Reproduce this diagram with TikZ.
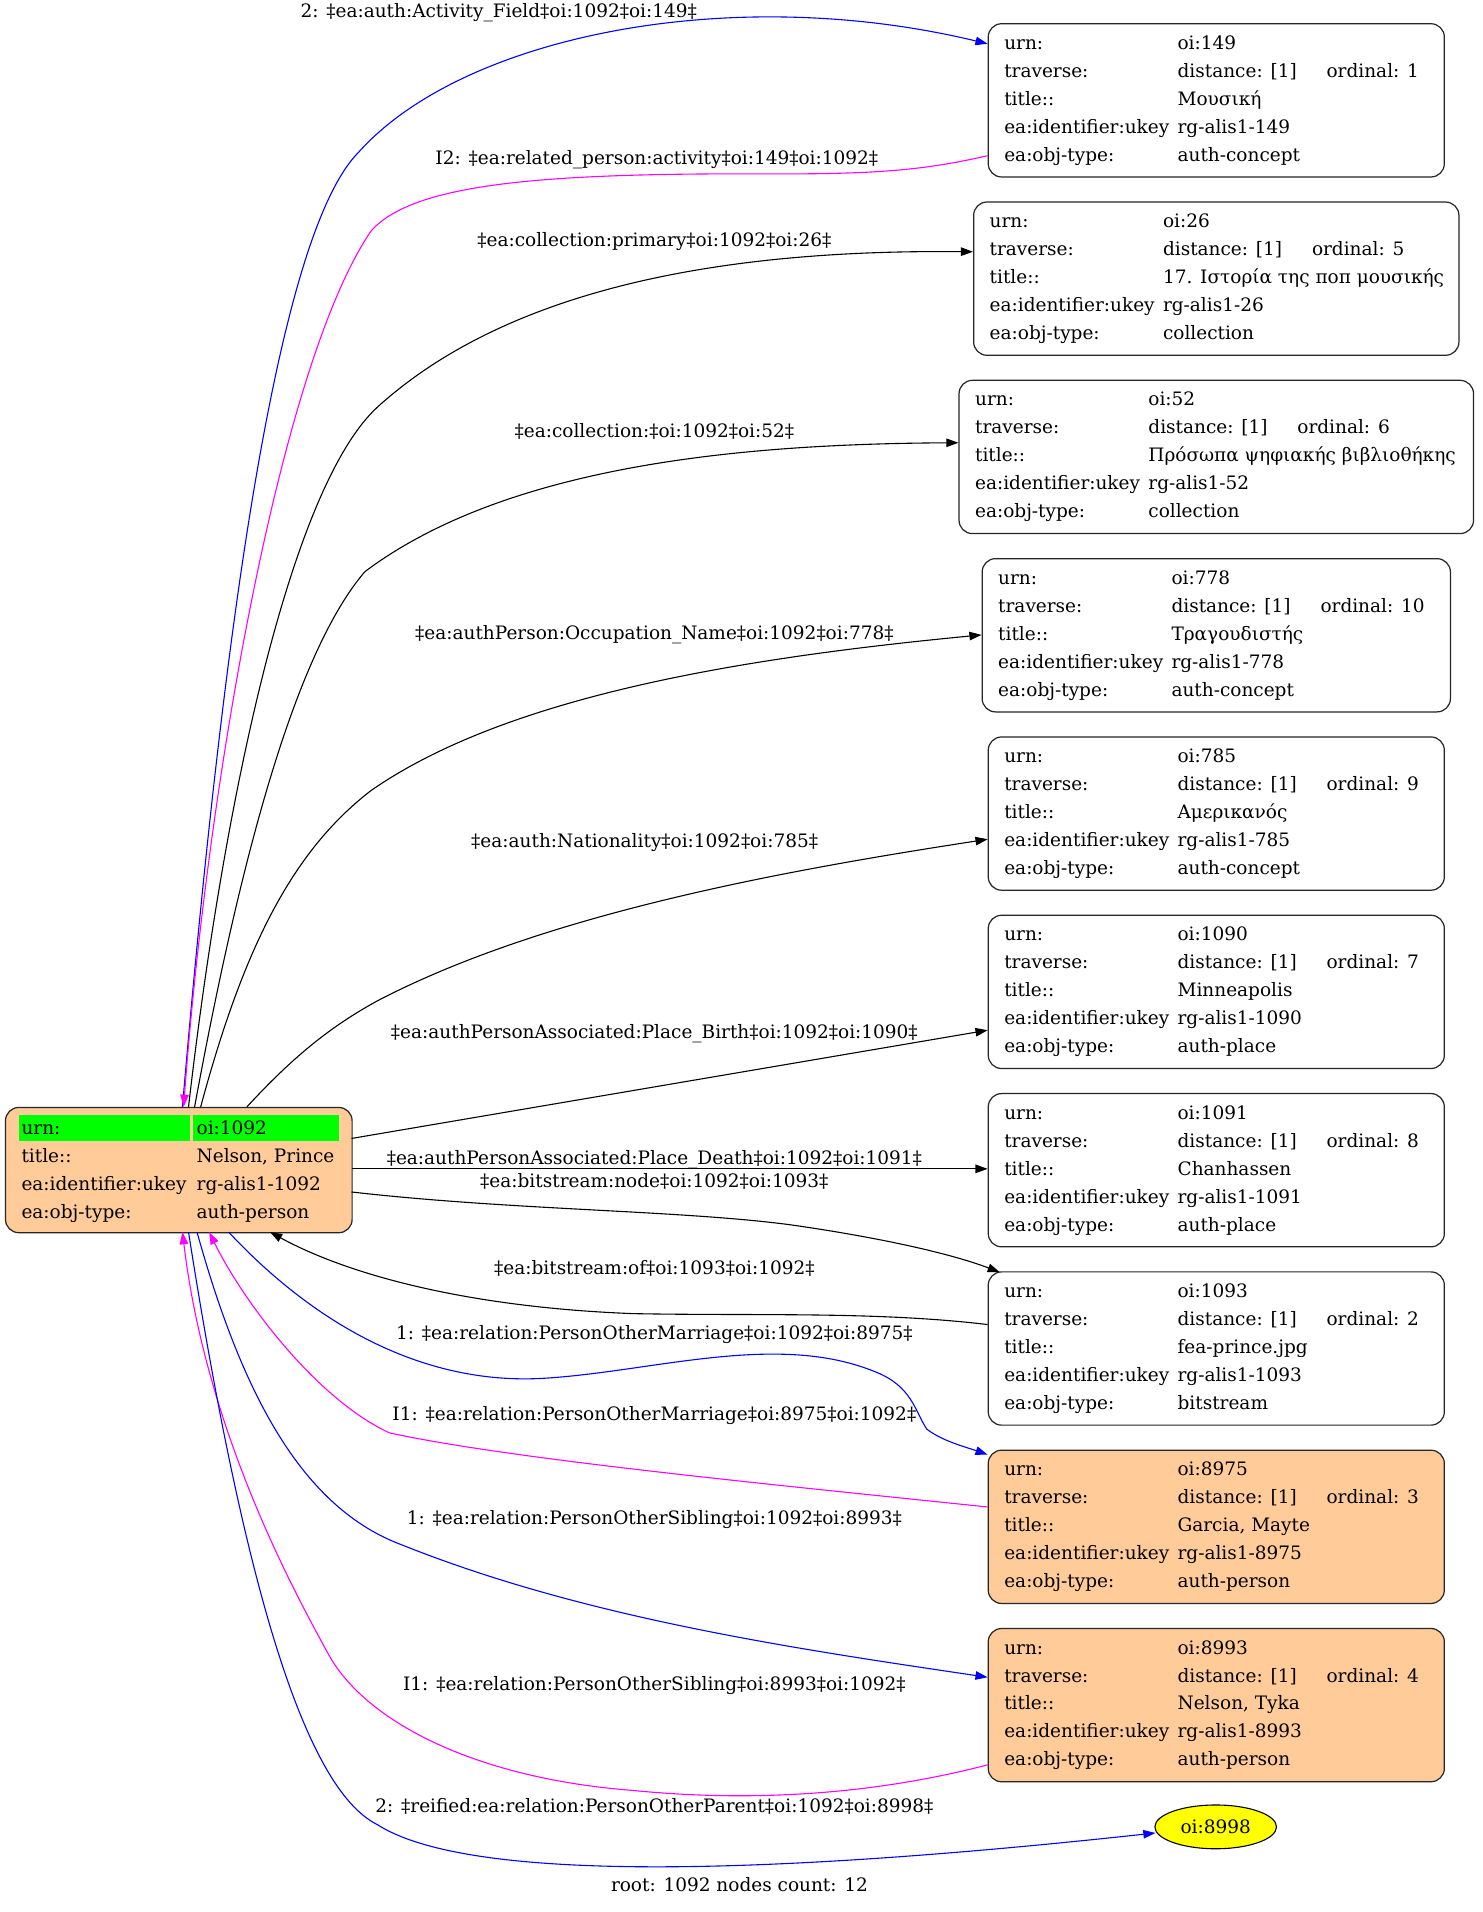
\documentclass[tikz,border=0pt]{standalone}
\usepackage{fontspec}
\setmainfont{DejaVu Serif}
\usetikzlibrary{arrows.meta,calc,shapes.geometric}
\definecolor{peach}{HTML}{FFCC99}
\definecolor{gvgreen}{HTML}{00FF00}
\definecolor{gvyellow}{HTML}{FFFF00}
\definecolor{gvblue}{HTML}{0000FF}
\definecolor{gvmag}{HTML}{FF00FF}
\tikzset{
  gvfont/.style={font=\fontsize{15.2}{17}\selectfont},
  recbox/.style={draw=black!85,line width=1pt,rounded corners=11pt,minimum height=126pt,inner sep=0pt},
  cell/.style={gvfont,inner sep=0pt,anchor=base west},
  elabel/.style={gvfont,inner sep=0pt,anchor=base},
  arr/.style={line width=0.9pt,-{Triangle[length=10pt,width=7pt]}},
  blk/.style={arr,black},
  blu/.style={arr,gvblue},
  mag/.style={arr,gvmag},
}
\newcommand\recbox[8]{%
  \node[recbox,#5,minimum width=#4pt,anchor=north west] (n#1) at (#2,#3) {};
  \node[cell] (n#1k1) at ($(#2,#3)+(13.5,21.5)$) {urn:};
  \node[cell] (n#1v1) at ($(#2,#3)+(156,21.5)$) {oi:#1};
  \node[cell] (n#1k2) at ($(#2,#3)+(13.5,44.5)$) {traverse:};
  \node[cell] (n#1v2) at ($(#2,#3)+(156,44.5)$) {distance: [1]};
  \node[cell] (n#1o2) at ($(#2,#3)+(278.5,44.5)$) {ordinal: #6};
  \node[cell] (n#1k3) at ($(#2,#3)+(13.5,67.5)$) {title::};
  \node[cell] (n#1v3) at ($(#2,#3)+(156,67.5)$) {#7};
  \node[cell] (n#1k4) at ($(#2,#3)+(13.5,90.5)$) {ea:identifier:ukey};
  \node[cell] (n#1v4) at ($(#2,#3)+(156,90.5)$) {rg-alis1-#1};
  \node[cell] (n#1k5) at ($(#2,#3)+(13.5,113.5)$) {ea:obj-type:};
  \node[cell] (n#1v5) at ($(#2,#3)+(156,113.5)$) {#8};
}
\begin{document}
\begin{tikzpicture}[x=1pt,y=-1pt]
\useasboundingbox (0,0) rectangle (1219,1572);
\fill[white] (0,0) rectangle (1219,1572);

% ---------- record nodes ----------
\recbox{149}{812}{19}{375}{fill=white}{1}{Μουσική}{auth-concept}
\recbox{26}{800}{165.6}{399}{fill=white}{5}{17. Ιστορία της ποπ μουσικής}{collection}
\recbox{52}{788}{312.2}{423}{fill=white}{6}{Πρόσωπα ψηφιακής βιβλιοθήκης}{collection}
\recbox{778}{807}{458.8}{385}{fill=white}{10}{Τραγουδιστής}{auth-concept}
\recbox{785}{812}{605.4}{375}{fill=white}{9}{Αμερικανός}{auth-concept}
\recbox{1090}{812}{752}{375}{fill=white}{7}{Minneapolis}{auth-place}
\recbox{1091}{812}{898.6}{375}{fill=white}{8}{Chanhassen}{auth-place}
\recbox{1093}{812}{1045.2}{375}{fill=white}{2}{fea-prince.jpg}{bitstream}
\recbox{8975}{812}{1191.8}{375}{fill=peach}{3}{Garcia, Mayte}{auth-person}
\recbox{8993}{812}{1338.4}{375}{fill=peach}{4}{Nelson, Tyka}{auth-person}

% ---------- root node ----------
\node[recbox,fill=peach,minimum width=285pt,minimum height=103pt,anchor=north west] (n1092) at (4,910) {};
\fill[gvgreen] (15.6,917) rectangle (156.4,938);
\fill[gvgreen] (158.9,917) rectangle (278.4,938);
\node[cell] (r1k1) at (17.5,932.5) {urn:};
\node[cell] (r1v1) at (161.5,932.5) {oi:1092};
\node[cell] (r1k2) at (17.5,955.5) {title::};
\node[cell] (r1v2) at (161.5,955.5) {Nelson, Prince};
\node[cell] (r1k3) at (17.5,978.5) {ea:identifier:ukey};
\node[cell] (r1v3) at (161.5,978.5) {rg-alis1-1092};
\node[cell] (r1k4) at (17.5,1001.5) {ea:obj-type:};
\node[cell] (r1v4) at (161.5,1001.5) {auth-person};

% ---------- ellipse ----------
\node[ellipse,draw=black,fill=gvyellow,line width=0.9pt,minimum width=100pt,minimum height=36pt,inner sep=0pt,gvfont] (n8998) at (999.5,1502) {oi:8998};

% ---------- ports ----------
\coordinate (t1) at (150,910);   \coordinate (h1) at (812,36);
\coordinate (t2) at (812,128);   \coordinate (h2) at (151,910);
\coordinate (t3) at (155,910);   \coordinate (h3) at (800,207);
\coordinate (t4) at (160,910);   \coordinate (h4) at (788,364);
\coordinate (t5) at (165,910);   \coordinate (h5) at (807,522);
\coordinate (t6) at (203,910);   \coordinate (h6) at (812,690);
\coordinate (t7) at (289,936);   \coordinate (h7) at (812,847);
\coordinate (t8) at (289,961);   \coordinate (h8) at (812,961);
\coordinate (t9) at (289,980);   \coordinate (h9) at (822,1046);
\coordinate (t10) at (812,1089); \coordinate (h10) at (222,1013);
\coordinate (t11) at (188,1013); \coordinate (h11) at (812,1196);
\coordinate (t12) at (812,1239); \coordinate (h12) at (172,1013);
\coordinate (t13) at (162,1013); \coordinate (h13) at (812,1379);
\coordinate (t14) at (812,1451); \coordinate (h14) at (150,1013);
\coordinate (t15) at (155,1013); \coordinate (h15) at (950,1507);

% ---------- edges ----------
\draw[blu] (t1) .. controls (185,500) and (230,190) .. (295,125) .. controls (380,30) and (600,-15) .. (h1);
\draw[mag] (t2) .. controls (760,140) and (720,143) .. (640,143) .. controls (450,142) and (340,150) .. (305,190) .. controls (230,300) and (170,650) .. (h2);
\draw[blk] (t3) .. controls (185,650) and (240,400) .. (310,335) .. controls (420,235) and (600,205) .. (h3);
\draw[blk] (t4) .. controls (195,720) and (240,540) .. (300,470) .. controls (420,380) and (620,365) .. (h4);
\draw[blk] (t5) .. controls (200,780) and (240,700) .. (305,650) .. controls (420,570) and (620,540) .. (h5);
\draw[blk] (t6) .. controls (240,870) and (270,845) .. (310,823) .. controls (450,750) and (650,715) .. (h6);
\draw[blk] (t7) -- (h7);
\draw[blk] (t8) -- (h8);
\draw[blk] (t9) .. controls (420,995) and (560,995) .. (650,1007) .. controls (720,1017) and (780,1030) .. (h9);
\draw[blk] (t10) .. controls (720,1078) and (620,1082) .. (520,1080) .. controls (390,1075) and (290,1050) .. (h10);
\draw[blu] (t11) .. controls (260,1090) and (350,1140) .. (450,1133) .. controls (540,1127) and (640,1095) .. (720,1128) .. controls (750,1140) and (752,1160) .. (762,1175) .. controls (775,1185) and (795,1190) .. (h11);
\draw[mag] (t12) .. controls (650,1222) and (420,1200) .. (320,1178) .. controls (260,1150) and (200,1070) .. (h12);
\draw[blu] (t13) .. controls (200,1150) and (250,1240) .. (330,1270) .. controls (480,1330) and (650,1355) .. (h13);
\draw[mag] (t14) .. controls (720,1475) and (620,1482) .. (520,1472) .. controls (390,1462) and (300,1415) .. (270,1360) .. controls (245,1314) and (170,1180) .. (h14);
\draw[blu] (t15) .. controls (200,1300) and (250,1470) .. (310,1500) .. controls (380,1545) and (600,1545) .. (h15);

% ---------- edge labels ----------
\node[elabel] (l1) at (410,14) {2: ‡ea:auth:Activity\_Field‡oi:1092‡oi:149‡};
\node[elabel] (l2) at (540,135) {I2: ‡ea:related\_person:activity‡oi:149‡oi:1092‡};
\node[elabel] (l3) at (538,203) {‡ea:collection:primary‡oi:1092‡oi:26‡};
\node[elabel] (l4) at (538,360) {‡ea:collection:‡oi:1092‡oi:52‡};
\node[elabel] (l5) at (538,526) {‡ea:authPerson:Occupation\_Name‡oi:1092‡oi:778‡};
\node[elabel] (l6) at (530,697) {‡ea:auth:Nationality‡oi:1092‡oi:785‡};
\node[elabel] (l7) at (538,854) {‡ea:authPersonAssociated:Place\_Birth‡oi:1092‡oi:1090‡};
\node[elabel] (l8) at (538,957) {‡ea:authPersonAssociated:Place\_Death‡oi:1092‡oi:1091‡};
\node[elabel] (l9) at (538,976) {‡ea:bitstream:node‡oi:1092‡oi:1093‡};
\node[elabel] (l10) at (538,1048) {‡ea:bitstream:of‡oi:1093‡oi:1092‡};
\node[elabel] (l11) at (538,1101) {1: ‡ea:relation:PersonOtherMarriage‡oi:1092‡oi:8975‡};
\node[elabel] (l12) at (538,1168) {I1: ‡ea:relation:PersonOtherMarriage‡oi:8975‡oi:1092‡};
\node[elabel] (l13) at (538,1253) {1: ‡ea:relation:PersonOtherSibling‡oi:1092‡oi:8993‡};
\node[elabel] (l14) at (538,1390) {I1: ‡ea:relation:PersonOtherSibling‡oi:8993‡oi:1092‡};
\node[elabel] (l15) at (538,1490) {2: ‡reified:ea:relation:PersonOtherParent‡oi:1092‡oi:8998‡};
\node[elabel] (title) at (608,1555) {root: 1092 nodes count: 12};
\end{tikzpicture}
\end{document}
